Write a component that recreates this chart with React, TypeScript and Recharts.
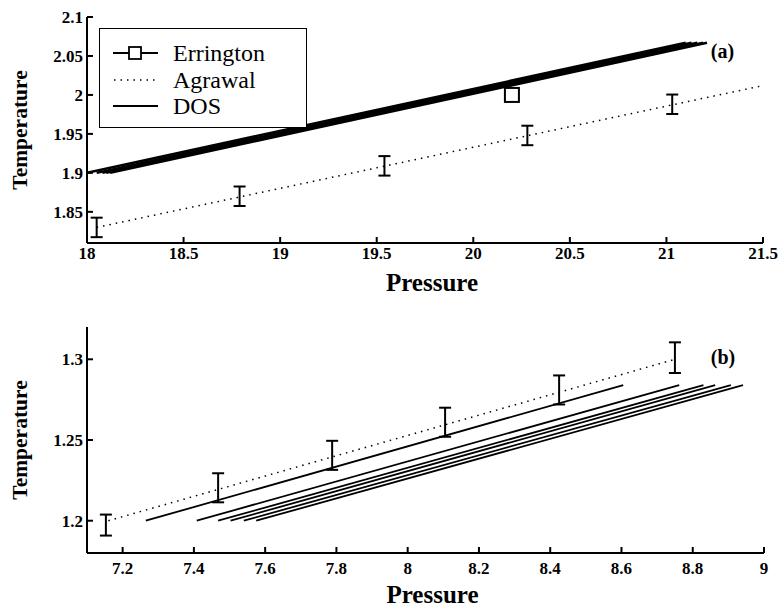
import { ErrorBar, Legend, Line, LineChart, ReferenceDot, XAxis, YAxis } from "recharts";

const FONT = "Liberation Serif, DejaVu Serif, serif";

// panel (a)
const aPressureTicks = [18, 18.5, 19, 19.5, 20, 20.5, 21, 21.5];
const aTempTicks = [1.85, 1.9, 1.95, 2, 2.05, 2.1];
const aErringtonP = [20.2];
const aErringtonT = [2.0];
const aAgrawalP = [18.05, 18.79, 19.54, 20.28, 21.03];
const aAgrawalT = [1.83, 1.87, 1.909, 1.948, 1.988];
const aAgrawalErr = [0.0125, 0.0125, 0.0125, 0.0125, 0.0125];
const aAgrawalFitP = [18.05, 21.5];
const aAgrawalFitT = [1.83, 2.012];
const aDosStartP = [18.0, 18.05, 18.08, 18.1, 18.12];
const aDosEndP = [21.1, 21.13, 21.16, 21.19, 21.21];
const aDosT = [1.9, 2.067];

// panel (b)
const bPressureTicks = [7.2, 7.4, 7.6, 7.8, 8, 8.2, 8.4, 8.6, 8.8, 9];
const bTempTicks = [1.2, 1.25, 1.3];
const bAgrawalP = [7.153, 7.468, 7.788, 8.105, 8.425, 8.75];
const bAgrawalT = [1.1973, 1.2204, 1.2405, 1.261, 1.281, 1.301];
const bAgrawalErr = [0.0065, 0.009, 0.009, 0.009, 0.009, 0.0095];
const bAgrawalFitP = [7.16, 8.75];
const bAgrawalFitT = [1.2, 1.3];
const bDosStartP = [7.265, 7.408, 7.468, 7.503, 7.54, 7.575];
const bDosEndP = [8.605, 8.762, 8.83, 8.863, 8.907, 8.941];
const bDosT = [1.2, 1.284];

const legendLabels = ["Errington", "Agrawal", "DOS"];

const pts = (p: number[], t: number[]) => p.map((x, i) => ({ p: x, t: t[i] }));
const bars = (p: number[], t: number[], e: number[]) =>
  p.map((x, i) => ({ p: x, t: t[i], err: [e[i], e[i]] }));
const segs = (start: number[], end: number[], t: number[]) =>
  start.map((s, i) => [
    { p: s, t: t[0] },
    { p: end[i], t: t[1] },
  ]);

const axisStroke = { stroke: "#000", strokeWidth: 2 };
const tickStyle = { fontSize: 17, fontWeight: "bold", fill: "#000", fontFamily: FONT };
const labelBase = { fontWeight: "bold", fill: "#000", fontFamily: FONT };

function LegendBox() {
  return (
    <div
      style={{
        border: "1.5px solid #000",
        background: "#fff",
        boxSizing: "border-box",
        width: 208,
        height: 100,
        padding: "11px 0 0 13px",
        fontFamily: FONT,
        color: "#000",
      }}
    >
      {legendLabels.map((name, i) => (
        <div key={name} style={{ display: "flex", alignItems: "center", height: 26.5 }}>
          <svg width={45} height={20}>
            {i === 0 && (
              <>
                <line x1={0} x2={45} y1={10} y2={10} stroke="#000" strokeWidth={2} />
                <rect x={16} y={4} width={12} height={12} fill="#fff" stroke="#000" strokeWidth={1.8} />
              </>
            )}
            {i === 1 && (
              <line x1={1} x2={45} y1={10} y2={10} stroke="#000" strokeWidth={1.5} strokeDasharray="1.5 5" />
            )}
            {i === 2 && <line x1={0} x2={45} y1={10} y2={10} stroke="#000" strokeWidth={2} />}
          </svg>
          <span style={{ marginLeft: 15, fontSize: 24, lineHeight: 1 }}>{name}</span>
        </div>
      ))}
    </div>
  );
}

const squareDot = (props: any) => (
  <rect
    key={`sq-${props.index}`}
    x={props.cx - 7}
    y={props.cy - 7}
    width={14}
    height={14}
    fill="#fff"
    stroke="#000"
    strokeWidth={2}
  />
);

function Frame({
  xDomain,
  yDomain,
  xTicks,
  yTicks,
  xHeight,
  xTickMargin,
  labelOffset,
}: {
  xDomain: [number, number];
  yDomain: [number, number];
  xTicks: number[];
  yTicks: number[];
  xHeight: number;
  xTickMargin: number;
  labelOffset: number;
}) {
  return [
    <XAxis
      key="xb"
      xAxisId={0}
      type="number"
      dataKey="p"
      domain={xDomain}
      ticks={xTicks}
      interval={0}
      allowDataOverflow
      height={xHeight}
      axisLine={axisStroke}
      tickLine={axisStroke}
      tickSize={-6}
      tickMargin={xTickMargin}
      tick={tickStyle}
      label={{ value: "Pressure", position: "insideBottom", offset: labelOffset, dx: 7, fontSize: 25, ...labelBase }}
    />,
    <XAxis
      key="xt"
      xAxisId="top"
      orientation="top"
      type="number"
      domain={xDomain}
      ticks={xTicks}
      interval={0}
      allowDataOverflow
      height={0}
      axisLine={axisStroke}
      tickLine={axisStroke}
      tickSize={-6}
      tick={false}
    />,
    <YAxis
      key="yl"
      yAxisId={0}
      type="number"
      domain={yDomain}
      ticks={yTicks}
      interval={0}
      allowDataOverflow
      width={87}
      axisLine={axisStroke}
      tickLine={axisStroke}
      tickSize={-6}
      tickMargin={10}
      tick={tickStyle}
      label={{
        value: "Temperature",
        angle: -90,
        position: "insideLeft",
        offset: 19,
        style: { textAnchor: "middle" },
        fontSize: 21.5,
        ...labelBase,
      }}
    />,
    <YAxis
      key="yr"
      yAxisId="right"
      orientation="right"
      type="number"
      domain={yDomain}
      ticks={yTicks}
      interval={0}
      allowDataOverflow
      width={0}
      axisLine={axisStroke}
      tickLine={axisStroke}
      tickSize={-6}
      tick={false}
    />,
  ];
}

function PanelA() {
  return (
    <LineChart width={781} height={300} margin={{ top: 17, right: 18, bottom: 0, left: 0 }}>
      {Frame({
        xDomain: [18, 21.5],
        yDomain: [1.81, 2.1],
        xTicks: aPressureTicks,
        yTicks: aTempTicks,
        xHeight: 57,
        xTickMargin: 10,
        labelOffset: 9,
      })}
      {segs(aDosStartP, aDosEndP, aDosT).map((d, i) => (
        <Line
          key={`dos-${i}`}
          data={d}
          dataKey="t"
          stroke="#000"
          strokeWidth={2.5}
          dot={false}
          activeDot={false}
          isAnimationActive={false}
        />
      ))}
      <Line
        data={pts(aAgrawalFitP, aAgrawalFitT)}
        dataKey="t"
        stroke="#000"
        strokeWidth={1.5}
        strokeDasharray="1.5 5"
        dot={false}
        activeDot={false}
        isAnimationActive={false}
      />
      <Line
        data={bars(aAgrawalP, aAgrawalT, aAgrawalErr)}
        dataKey="t"
        stroke="none"
        dot={false}
        activeDot={false}
        isAnimationActive={false}
      >
        <ErrorBar dataKey="err" direction="y" width={6} stroke="#000" strokeWidth={2} isAnimationActive={false} />
      </Line>
      <Line
        data={pts(aErringtonP, aErringtonT)}
        dataKey="t"
        stroke="#000"
        dot={squareDot}
        activeDot={false}
        isAnimationActive={false}
      />
      <ReferenceDot
        x={21.29}
        y={2.056}
        r={0}
        stroke="none"
        label={{ value: "(a)", position: "center", fontSize: 20, ...labelBase }}
      />
      <Legend
        layout="vertical"
        align="center"
        verticalAlign="middle"
        content={() => <LegendBox />}
        wrapperStyle={{ left: 99, top: 28, width: 208, height: 100 }}
      />
    </LineChart>
  );
}

function PanelB() {
  return (
    <LineChart width={781} height={307} margin={{ top: 27, right: 17, bottom: 0, left: 0 }}>
      {Frame({
        xDomain: [7.1, 9],
        yDomain: [1.18, 1.32],
        xTicks: bPressureTicks,
        yTicks: bTempTicks,
        xHeight: 54,
        xTickMargin: 15,
        labelOffset: 4,
      })}
      {segs(bDosStartP, bDosEndP, bDosT).map((d, i) => (
        <Line
          key={`dos-${i}`}
          data={d}
          dataKey="t"
          stroke="#000"
          strokeWidth={1.8}
          dot={false}
          activeDot={false}
          isAnimationActive={false}
        />
      ))}
      <Line
        data={pts(bAgrawalFitP, bAgrawalFitT)}
        dataKey="t"
        stroke="#000"
        strokeWidth={1.5}
        strokeDasharray="1.5 5"
        dot={false}
        activeDot={false}
        isAnimationActive={false}
      />
      <Line
        data={bars(bAgrawalP, bAgrawalT, bAgrawalErr)}
        dataKey="t"
        stroke="none"
        dot={false}
        activeDot={false}
        isAnimationActive={false}
      >
        <ErrorBar dataKey="err" direction="y" width={6} stroke="#000" strokeWidth={2} isAnimationActive={false} />
      </Line>
      <ReferenceDot
        x={8.885}
        y={1.3017}
        r={0}
        stroke="none"
        label={{ value: "(b)", position: "center", fontSize: 20, ...labelBase }}
      />
    </LineChart>
  );
}

export default function App() {
  return (
    <div
      style={{
        position: "absolute",
        left: 0,
        top: 0,
        width: 781,
        height: 607,
        background: "#fff",
        fontFamily: FONT,
      }}
    >
      <div style={{ position: "absolute", left: 0, top: 0 }}>
        <PanelA />
      </div>
      <div style={{ position: "absolute", left: 0, top: 300 }}>
        <PanelB />
      </div>
    </div>
  );
}
